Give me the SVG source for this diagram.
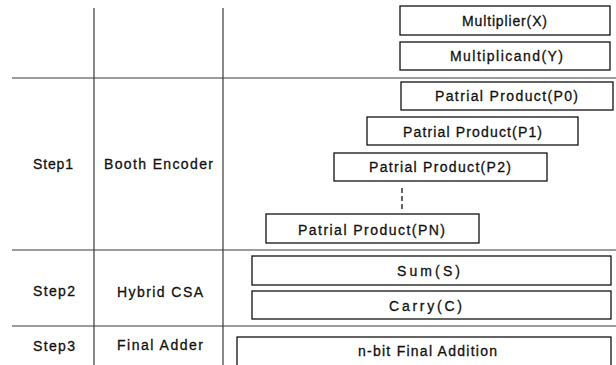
<svg xmlns="http://www.w3.org/2000/svg" width="616" height="365" viewBox="0 0 616 365">
<style>
.grid{stroke:#3a3a3a;stroke-width:1.2;fill:none}
.box{fill:#fff;stroke:#111;stroke-width:1.3}
text{font-family:"Liberation Sans",Arial,sans-serif;font-size:14px;fill:#111;stroke:#111;stroke-width:0.3}
.dash{stroke:#111;stroke-width:1.3;stroke-dasharray:5,3;fill:none}
</style>
<rect width="616" height="365" fill="#fff"/>
<g id="grid">
<line class="grid" x1="94" y1="8" x2="94" y2="365"/>
<line class="grid" x1="223" y1="8" x2="223" y2="365"/>
<line class="grid" x1="12" y1="78" x2="616" y2="78"/>
<line class="grid" x1="12" y1="250" x2="616" y2="250"/>
<line class="grid" x1="12" y1="326" x2="616" y2="326"/>
</g>
<g id="labels">
<text x="33" y="169" textLength="40" lengthAdjust="spacing">Step1</text>
<text x="104" y="169" textLength="109" lengthAdjust="spacing">Booth Encoder</text>
<text x="33" y="296" textLength="42" lengthAdjust="spacing">Step2</text>
<text x="117" y="297" textLength="86" lengthAdjust="spacing">Hybrid CSA</text>
<text x="33" y="351" textLength="42" lengthAdjust="spacing">Step3</text>
<text x="117" y="350" textLength="86" lengthAdjust="spacing">Final Adder</text>
</g>
<g id="multiplier">
<rect class="box" x="400" y="6" width="210" height="29"/>
<text x="462" y="26" textLength="85" lengthAdjust="spacing">Multiplier(X)</text>
</g>
<g id="multiplicand">
<rect class="box" x="400" y="42" width="210" height="28"/>
<text x="450" y="61" textLength="113" lengthAdjust="spacing">Multiplicand(Y)</text>
</g>
<g id="p0">
<rect class="box" x="401" y="82" width="212" height="28"/>
<text x="435" y="101" textLength="143" lengthAdjust="spacing">Patrial Product(P0)</text>
</g>
<g id="p1">
<rect class="box" x="367" y="117" width="211" height="28"/>
<text x="403" y="137" textLength="139" lengthAdjust="spacing">Patrial Product(P1)</text>
</g>
<g id="p2">
<rect class="box" x="334" y="153" width="213" height="28"/>
<text x="369" y="172" textLength="142" lengthAdjust="spacing">Patrial Product(P2)</text>
</g>
<g id="connectors">
<line class="dash" x1="402" y1="188" x2="402" y2="211"/>
</g>
<g id="pn">
<rect class="box" x="266" y="214" width="213" height="29"/>
<text x="298" y="235" textLength="147" lengthAdjust="spacing">Patrial Product(PN)</text>
</g>
<g id="sum">
<rect class="box" x="252" y="256" width="359" height="29"/>
<text x="397" y="276" textLength="63" lengthAdjust="spacing">Sum(S)</text>
</g>
<g id="carry">
<rect class="box" x="252" y="291" width="359" height="28"/>
<text x="389" y="311" textLength="73" lengthAdjust="spacing">Carry(C)</text>
</g>
<g id="final">
<rect class="box" x="237" y="337" width="374" height="40"/>
<text x="358" y="356" textLength="139" lengthAdjust="spacing">n-bit Final Addition</text>
</g>
</svg>
